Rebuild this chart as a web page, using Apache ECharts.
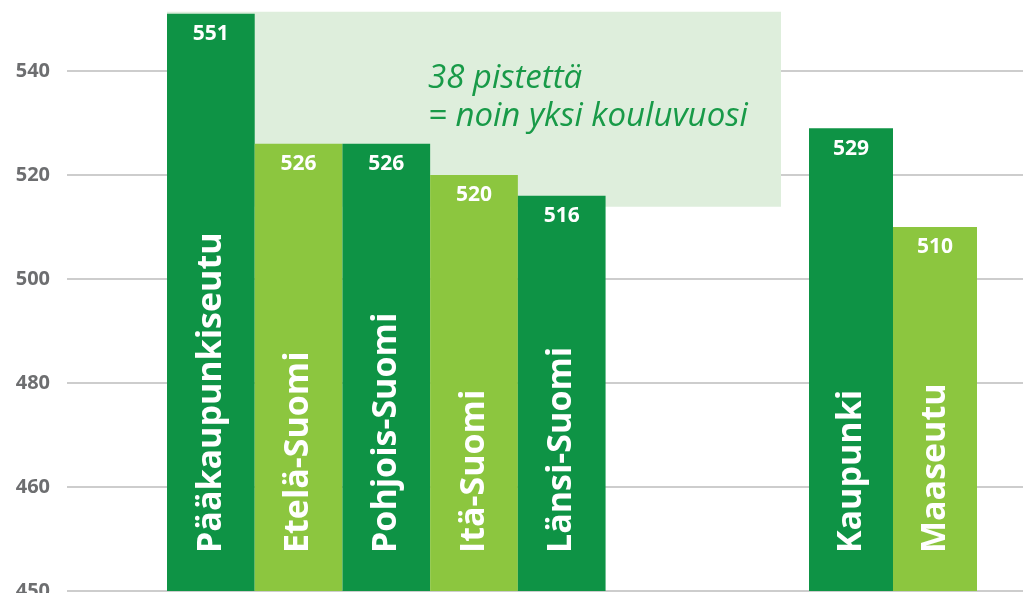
<!DOCTYPE html>
<html>
<head>
<meta charset="UTF-8">
<title></title>
<script src="https://cdn.jsdelivr.net/npm/echarts@6/dist/echarts.min.js"></script>
<style>
  html, body { margin: 0; padding: 0; background: #fff; }
  #main { width: 1023px; height: 593px; }
</style>
</head>
<body>
<div id="main"></div>
<script type="text/javascript">
// alueet ja pisteet
var regions = ['Pääkaupunkiseutu', 'Etelä-Suomi', 'Pohjois-Suomi', 'Itä-Suomi', 'Länsi-Suomi'];
var regionScores = [551, 526, 526, 520, 516];
var areaTypes = ['Kaupunki', 'Maaseutu'];
var areaScores = [529, 510];
// y-akselin alin tikki on katkaistu: 440 näytetään "450"
var yTickLabels = { 440: '450', 460: '460', 480: '480', 500: '500', 520: '520', 540: '540' };
// laatikko (n. 38 pistettä korkea), luettu kuvasta
var boxTop = 551.4;
var boxBottom = 513.9;
var boxText = ['38 pistettä', '= noin yksi kouluvuosi'];

var dark = '#0e9345';
var light = '#8cc63f';
var font = 'Open Sans';

function barColor(p) { return p.dataIndex % 2 === 0 ? dark : light; }

// kaksi tyhjää saraketta laatikon oikeaa reunaa varten
var regionCats = regions.concat(['', ' ']);
var regionVals = regionScores.concat(['-', '-']);

var yBase = { type: 'value', min: 440, max: 560, interval: 20 };

function valueLabel() {
    return { show: true, position: 'insideTop', distance: 10, color: '#fff',
             fontFamily: font, fontWeight: 'bold', fontSize: 21 };
}
function nameLabel() {
    return { show: true, position: 'insideBottom', distance: 38, rotate: 90,
             align: 'left', verticalAlign: 'middle', color: '#fff',
             fontFamily: font, fontWeight: 'bold', fontSize: 34,
             formatter: function (p) { return p.name; } };
}

var gridBase = { top: -33, bottom: 2, outerBoundsMode: 'none', containLabel: false };

var option = {
    animation: false,
    grid: [
        Object.assign({ left: 67, right: 0 }, gridBase),
        Object.assign({ left: 167, width: 614 }, gridBase),
        Object.assign({ left: 809, width: 168 }, gridBase)
    ],
    xAxis: [
        { gridIndex: 0, type: 'category', data: [], show: false },
        { gridIndex: 1, type: 'category', data: regionCats, show: false },
        { gridIndex: 2, type: 'category', data: areaTypes, show: false }
    ],
    yAxis: [
        Object.assign({ gridIndex: 0,
            axisLine: { show: false }, axisTick: { show: false },
            splitLine: { lineStyle: { color: '#bdbdbd', width: 1.5 } },
            axisLabel: { margin: 17, color: '#6d6e70', fontFamily: font, fontWeight: 'bold', fontSize: 20,
                         formatter: function (v) { return yTickLabels[v] || ''; } } }, yBase),
        Object.assign({ gridIndex: 1, show: false, splitLine: { show: false } }, yBase),
        Object.assign({ gridIndex: 2, show: false, splitLine: { show: false } }, yBase)
    ],
    series: [
        {
            type: 'bar', xAxisIndex: 1, yAxisIndex: 1, data: regionVals,
            barCategoryGap: 0, barGap: '-100%',
            itemStyle: { color: barColor }, label: valueLabel(),
            markArea: {
                silent: true,
                itemStyle: { color: '#deeedc' },
                label: { show: true, position: ['42.5%', '24.5%'], align: 'left', verticalAlign: 'top',
                         color: '#189a48', fontFamily: font, fontStyle: 'italic', fontSize: 33, lineHeight: 38,
                         formatter: boxText.join('\n') },
                data: [[{ yAxis: boxTop }, { yAxis: boxBottom }]]
            }
        },
        {
            type: 'bar', xAxisIndex: 1, yAxisIndex: 1, data: regionVals,
            barCategoryGap: 0, barGap: '-100%', z: 3, silent: true,
            itemStyle: { color: 'rgba(0,0,0,0)' }, label: nameLabel()
        },
        {
            type: 'bar', xAxisIndex: 2, yAxisIndex: 2, data: areaScores,
            barCategoryGap: 0, barGap: '-100%',
            itemStyle: { color: barColor }, label: valueLabel()
        },
        {
            type: 'bar', xAxisIndex: 2, yAxisIndex: 2, data: areaScores,
            barCategoryGap: 0, barGap: '-100%', z: 3, silent: true,
            itemStyle: { color: 'rgba(0,0,0,0)' }, label: nameLabel()
        }
    ]
};

var myChart = echarts.init(document.getElementById('main'));
myChart.setOption(option);
</script>
</body>
</html>
